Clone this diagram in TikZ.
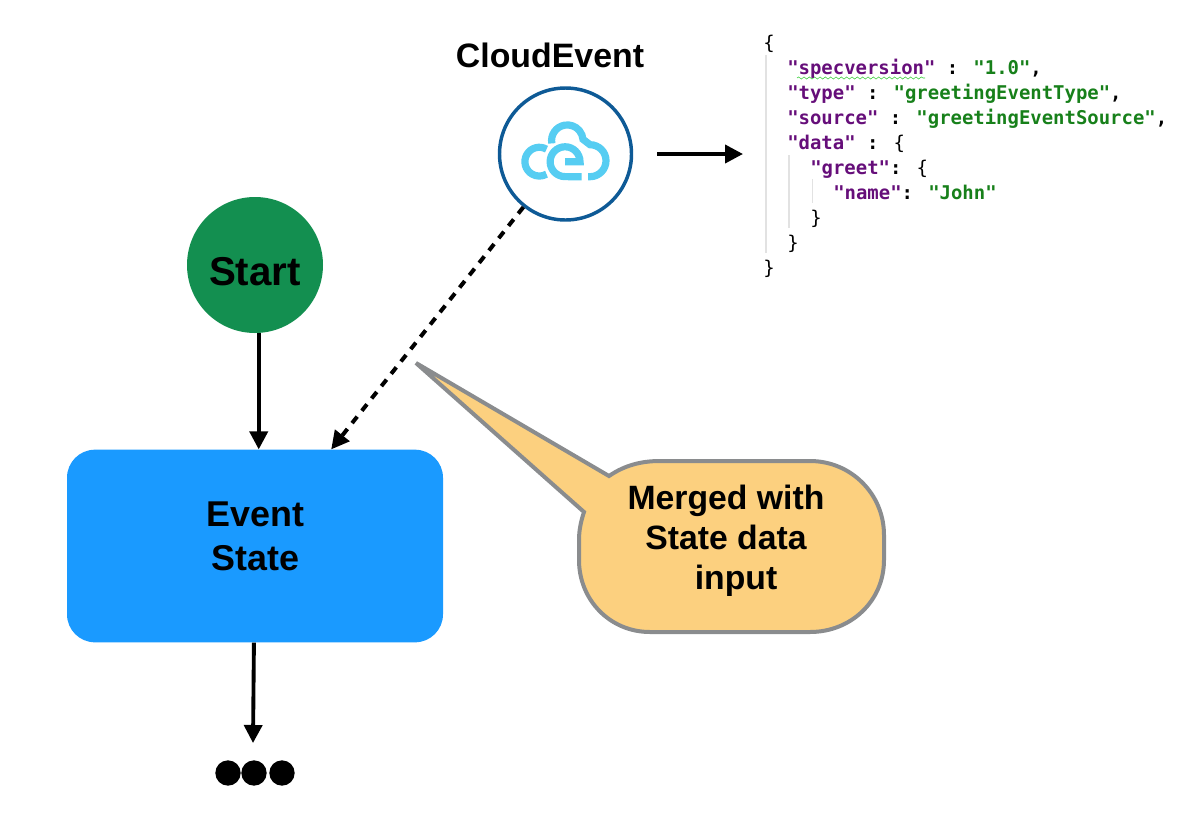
\documentclass[tikz,border=0pt]{standalone}
\usepackage{fontspec}
\setmainfont{Liberation Sans}
\newfontfamily\codefont{DejaVu Sans Mono}
\usetikzlibrary{arrows.meta,decorations.pathmorphing}

\definecolor{startgreen}{HTML}{138F50}
\definecolor{stateblue}{HTML}{1A9AFF}
\definecolor{ceblue}{HTML}{0E5A96}
\definecolor{celight}{HTML}{56CDF2}
\definecolor{callfill}{HTML}{FCD07F}
\definecolor{callline}{HTML}{8A8C8E}
\definecolor{keypurple}{HTML}{660E7A}
\definecolor{strgreen}{HTML}{17801A}
\definecolor{guidegray}{HTML}{E2E2E2}

\tikzset{
    flow/.style={line width=2.9pt, -{Triangle[length=13.5pt,width=13.5pt]}},
    bigtext/.style={font=\fontsize{25.4}{33}\bfseries\selectfont},
    codeline/.style={anchor=base west, inner sep=0pt, font=\fontsize{14.2}{16}\codefont},
    guide/.style={guidegray, line width=1pt},
    iconline/.style={celight, line width=5.4pt},
    dotnode/.style={circle, fill=black, minimum size=19pt, inner sep=0pt}
}
\newcommand{\jkey}[1]{\textcolor{keypurple}{\bfseries #1}}
\newcommand{\jstr}[1]{\textcolor{strgreen}{\bfseries #1}}

\begin{document}
\begin{tikzpicture}[x=0.75pt, y=-0.75pt]
    \useasboundingbox (0,0) rectangle (1196,818);

    % Start and Event State
    \node[circle, fill=startgreen, minimum size=102pt, inner sep=0pt, font=\fontsize{30.2}{33}\bfseries\selectfont,
        text height=30pt, text depth=0pt] (start) at (255,265) {Start};
    \node[rectangle, rounded corners=21pt, fill=stateblue, minimum width=282pt, minimum height=144.5pt] (state) at (255,546) {};
    \node[bigtext, font=\fontsize{26.9}{33}\bfseries\selectfont, align=center] (statetext) at (255.5,536) {Event\\State};

    % CloudEvent circle and its title
    \node[circle, draw=ceblue, line width=2.6pt, fill=white, minimum size=99pt, inner sep=0pt] (ce) at (565.5,154) {};
    \node[bigtext] (cetitle) at (550,55) {CloudEvent};

    % Cloud logo
    \draw[iconline] (546.5,149.2) arc[start angle=60, end angle=300, radius=10.8pt];
    \draw[iconline] (551.8,143.4) arc[start angle=190, end angle=5, radius=11.8pt]
        -- (590,144.7) arc[start angle=90, end angle=-90, radius=12pt] -- (588,176.7);
    \draw[iconline] (565,161.7) -- (580,161.7) arc[start angle=0, end angle=270, radius=11.2pt] -- (581.7,176.7);

    % Callout
    \draw[fill=callfill, draw=callline, line width=3pt, line join=miter]
        (416,363) -- (609,476) .. controls (625,465) and (642,461) .. (660,461)
        -- (810,461) .. controls (851,461) and (884,494) .. (884,535)
        -- (884,560) .. controls (884,601) and (851,632) .. (810,632)
        -- (650,632) .. controls (610,632) and (579,600) .. (579,560)
        -- (579,540) .. controls (579,530) and (581,521) .. (584,512) -- cycle;
    \node[font=\fontsize{25.3}{30}\bfseries\selectfont, align=center] (calltext) at (726,540.5) {Merged with\\State data\\\hspace*{15pt}input};

    % Dots at the bottom
    \foreach \name/\xpos in {dotleft/228, dotmid/254, dotright/282}
        \node[dotnode] (\name) at (\xpos,773) {};

    % Connectors
    \coordinate (jsontip) at (743,154);
    \coordinate (dotstip) at (253,743);
    \draw[flow] ([xshift=2.8pt]start.south) -- ([xshift=2.8pt]start.south |- state.north);
    \draw[flow] ([xshift=-0.8pt]state.south) -- (dotstip);
    \draw[flow, shorten <=18pt] (ce.east) -- (jsontip);
    \draw[line width=3pt, dash pattern=on 6.2pt off 5.6pt, -{Triangle[length=13.5pt,width=13.5pt]}] (ce) -- (state);

    % JSON text
    \draw[guide] (766,55) -- (766,253);
    \draw[guide] (789,155) -- (789,228);
    \draw[guide] (812.5,179) -- (812.5,203);
    \draw[green!60!gray, line width=0.4pt, decorate, decoration={snake, amplitude=0.8pt, segment length=4pt}] (797,78) -- (925,78);
    \node[codeline] (jsonopen) at (763,49) {\{};
    \node[codeline] (jsonspec) at (787,74.5) {\jkey{"specversion"} \textbf{:} \jstr{"1.0"}\textbf{,}};
    \node[codeline] (jsontype) at (787,99.5) {\jkey{"type"} \textbf{:} \jstr{"greetingEventType"}\textbf{,}};
    \node[codeline] (jsonsource) at (787,124.5) {\jkey{"source"} \textbf{:} \jstr{"greetingEventSource"}\textbf{,}};
    \node[codeline] (jsondata) at (787,149.5) {\jkey{"data"} \textbf{:} \{};
    \node[codeline] (jsongreet) at (810,174.5) {\jkey{"greet"}\textbf{:} \{};
    \node[codeline] (jsonname) at (833,199.5) {\jkey{"name"}\textbf{:} \jstr{"John"}};
    \node[codeline] (jsonclosea) at (810,224.5) {\}};
    \node[codeline] (jsoncloseb) at (787,249.5) {\}};
    \node[codeline] (jsonclose) at (763,274) {\}};
\end{tikzpicture}
\end{document}
